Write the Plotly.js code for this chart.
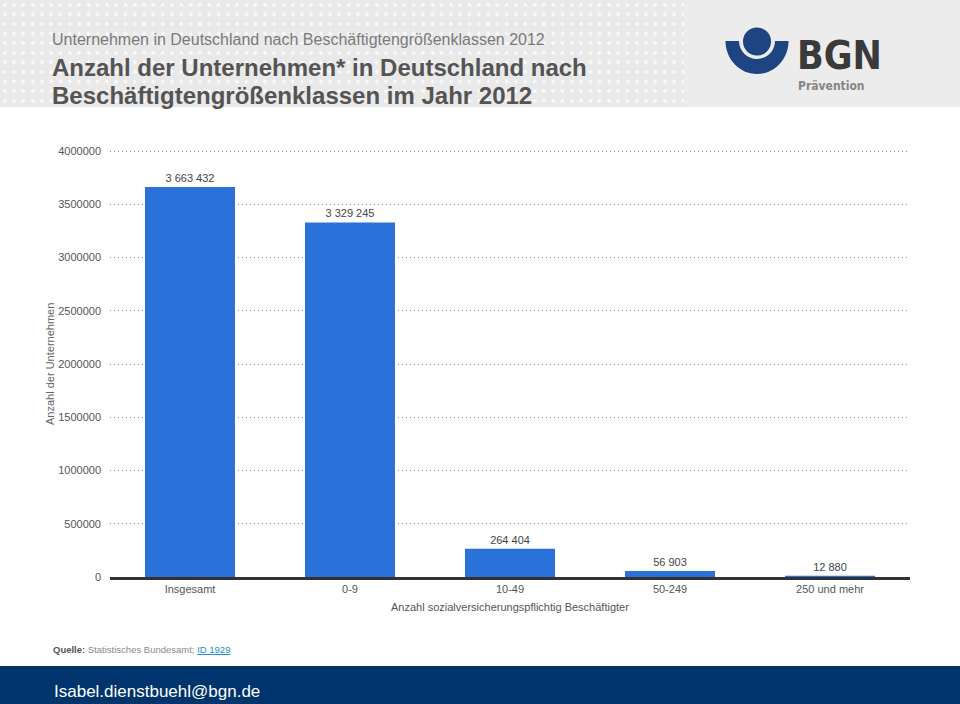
<!DOCTYPE html>
<html>
<head>
<meta charset="utf-8">
<script src="https://cdn.plot.ly/plotly-3.0.1.min.js"></script>
<style>
  html, body { margin:0; padding:0; background:#ffffff; }
  #wrap { position:relative; width:960px; height:704px; overflow:hidden; }
  #hdr { position:absolute; left:0; top:0; width:960px; height:107px; background:#ececec; }
  #dots { position:absolute; left:0; top:0; width:684px; height:107px; background-color:#e9e9e9;
          background-image: radial-gradient(circle, #fbfbfb 1.3px, rgba(251,251,251,0) 2px);
          background-size: 9.3px 9.6px; background-position: 0px 0px; }
  #ftr { position:absolute; left:0; top:666px; width:960px; height:38px; background:#00346c; }
  #chart { position:absolute; left:0; top:0; width:960px; height:704px; }
</style>
</head>
<body>
<div id="wrap">
  <div id="hdr"></div>
  <div id="dots"></div>
  <div id="ftr"></div>
  <div id="chart"></div>
</div>
<script>
// ---- data ----
var categories = ['Insgesamt', '0-9', '10-49', '50-249', '250 und mehr'];
var companies = [3663432, 3329245, 264404, 56903, 12880];
var yTickValues = [0, 500000, 1000000, 1500000, 2000000, 2500000, 3000000, 3500000, 4000000];
var yTickLabels = ['0', '500000', '1000000', '1500000', '2000000', '2500000', '3000000', '3500000', '4000000'];

function fmt(v) { return String(v).replace(/\B(?=(\d{3})+(?!\d))/g, ' '); }
var labels = companies.map(fmt);

// plot area in pixels
var L = 110, R = 910, T = 150, B = 577;
function fx(px) { return (px - L) / (R - L); }
function fy(py) { return (B - py) / (B - T); }

var logoBlue = '#1e4482';
function halfEllipse(cx, cy, rx, ry) {
  var k = 0.5523;
  function p(x, y) { return fx(x) + ',' + fy(y); }
  return 'M' + p(cx - rx, cy) +
    ' C' + p(cx - rx, cy + k * ry) + ' ' + p(cx - k * rx, cy + ry) + ' ' + p(cx, cy + ry) +
    ' C' + p(cx + k * rx, cy + ry) + ' ' + p(cx + rx, cy + k * ry) + ' ' + p(cx + rx, cy) + ' Z';
}
function circle(cx, cy, r, color) {
  return { type: 'circle', xref: 'paper', yref: 'paper', x0: fx(cx - r), x1: fx(cx + r),
    y0: fy(cy + r), y1: fy(cy - r), fillcolor: color, line: { width: 0 }, layer: 'above' };
}

var shapes = [
  { type: 'path', xref: 'paper', yref: 'paper', path: halfEllipse(757, 41, 31.5, 33), fillcolor: logoBlue, line: { width: 0 }, layer: 'above' },
  { type: 'path', xref: 'paper', yref: 'paper', path: halfEllipse(757, 41, 18, 18), fillcolor: '#ececec', line: { width: 0 }, layer: 'above' },
  circle(757, 41.5, 14, logoBlue)
];

var font = 'Liberation Sans, Arial, sans-serif';
var condensed = 'Liberation Sans Narrow, DejaVu Sans Condensed, sans-serif';
function ann(text, px, py, size, color, extra) {
  var a = { text: text, xref: 'paper', yref: 'paper', x: fx(px), y: fy(py), xanchor: 'left', yanchor: 'middle',
    showarrow: false, font: { family: font, size: size, color: color } };
  if (extra) for (var k in extra) a[k] = extra[k];
  return a;
}

var annotations = [
  ann('Unternehmen in Deutschland nach Beschäftigtengrößenklassen 2012', 50, 40, 16, '#7a7a7a'),
  ann('<b>Anzahl der Unternehmen* in Deutschland nach</b>', 50, 67, 24, '#545454'),
  ann('<b>Beschäftigtengrößenklassen im Jahr 2012</b>', 50, 95, 24, '#545454'),
  ann('<b>BGN</b>', 795, 56, 39, '#3a3a3a', { font: { family: condensed, size: 39, color: '#3a3a3a' } }),
  ann('<b>Prävention</b>', 796, 86, 12, '#858585', { font: { family: condensed, size: 12, color: '#858585' } }),
  ann('Anzahl der Unternehmen', 50, 364, 11, '#666666', { xanchor: 'center', textangle: -90 }),
  ann('Anzahl sozialversicherungspflichtig Beschäftigter', 510, 607, 11, '#555555', { xanchor: 'center' }),
  ann('<b>Quelle:</b> <span style="color:#8a8a8a">Statistisches Bundesamt;</span> <span style="color:#1a8ccc;text-decoration:underline">ID 1929</span>', 51, 649, 9.5, '#555555'),
  ann('Isabel.dienstbuehl@bgn.de', 52, 691, 17, '#ffffff')
];

var trace = {
  type: 'bar',
  x: categories,
  y: companies,
  text: labels,
  textposition: 'outside',
  cliponaxis: false,
  textfont: { family: font, size: 11, color: '#444444' },
  marker: { color: '#2a72d9', line: { width: 0 } },
  hoverinfo: 'x+y'
};

var layout = {
  width: 960, height: 704,
  margin: { l: L, r: 960 - R, t: T, b: 704 - B, pad: 0 },
  paper_bgcolor: 'rgba(0,0,0,0)',
  plot_bgcolor: 'rgba(0,0,0,0)',
  showlegend: false,
  bargap: 0.4375,
  font: { family: font, size: 11, color: '#555555' },
  xaxis: {
    type: 'category',
    showgrid: false,
    showline: true, linecolor: '#333333', linewidth: 3,
    ticks: '', tickfont: { family: font, size: 11, color: '#555555' },
    fixedrange: true
  },
  yaxis: {
    range: [0, 4010000],
    tickvals: yTickValues, ticktext: yTickLabels,
    showgrid: true, gridcolor: '#8c8c8c', griddash: '1px,3px', gridwidth: 1,
    zeroline: false, showline: false,
    ticks: '', ticklabelstandoff: 8,
    tickfont: { family: font, size: 11, color: '#555555' },
    fixedrange: true
  },
  shapes: shapes,
  annotations: annotations
};

Plotly.newPlot('chart', [trace], layout, { displayModeBar: false, staticPlot: true });
</script>
</body>
</html>
